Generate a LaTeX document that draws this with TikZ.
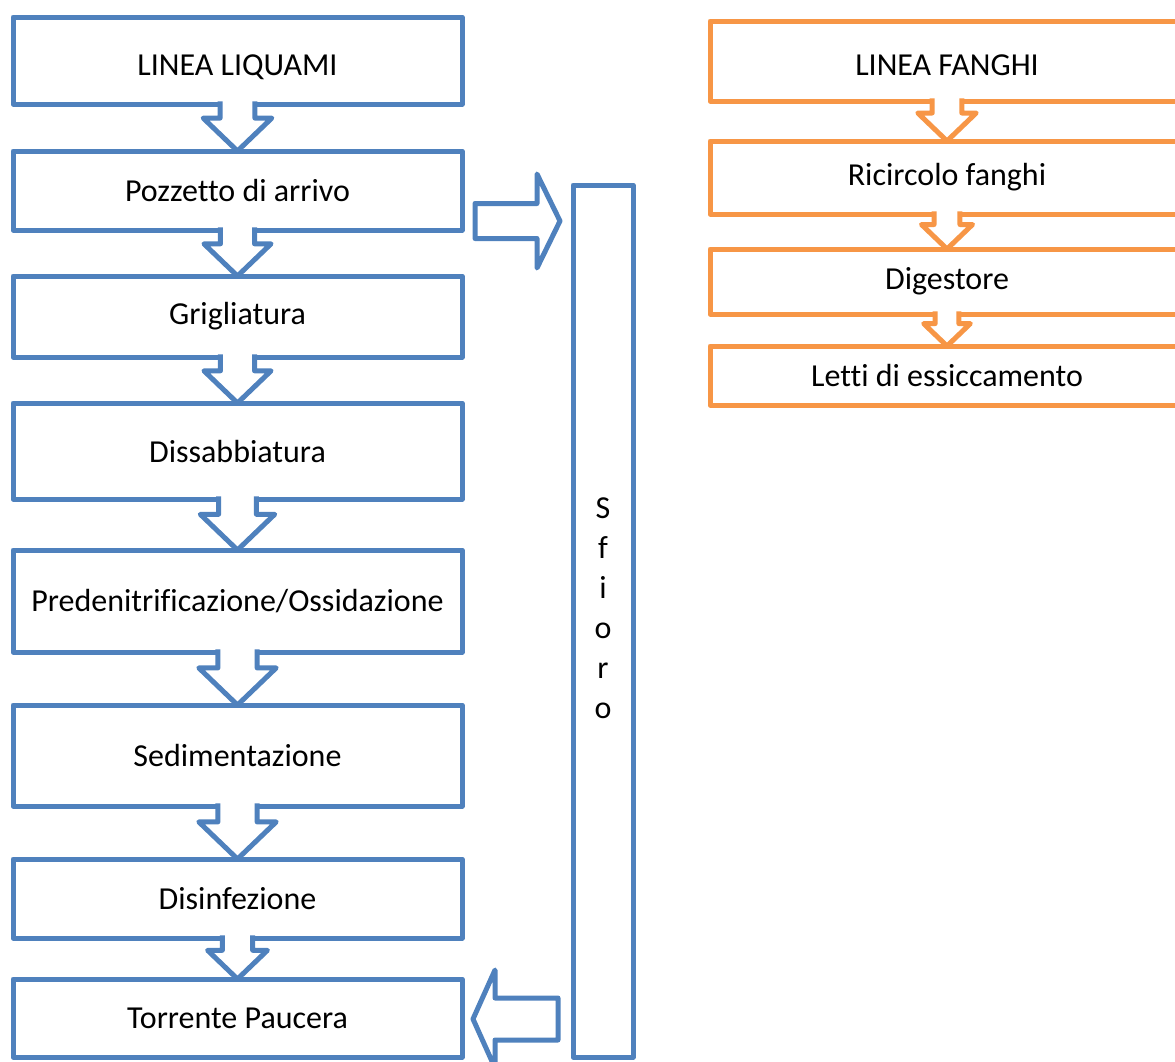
\documentclass[tikz,border=0pt]{standalone}
\usepackage{fontspec}
\setmainfont[Ligatures=NoCommon]{Carlito}
\usetikzlibrary{calc}
\definecolor{flowblue}{HTML}{4F81BD}
\definecolor{floworange}{HTML}{F79646}

\tikzset{
  stagebox/.style={draw=#1, fill=white, line width=5pt, outer sep=0pt, inner sep=0pt,
    line join=round, font=\fontsize{32}{38}\selectfont, text=black},
  liqbox/.style={stagebox=flowblue, minimum width=449pt},
  fanbox/.style={stagebox=floworange, minimum width=474pt},
  headtext/.style={text height=29pt, text depth=0pt},
  blockarrow/.style={draw=#1, fill=white, line width=5pt, line join=round},
}

% Hollow block arrow from the bottom of one stage box to the top of the next.
% Its open top merges into the upper box, whose border is hidden by the fill.
\newcommand\stagearrow[3]{%
  \path let \p1=(#2.south), \p2=(#3.north), \n1={\y1-\y2} in
    (\x1-0.37*\n1,\y1+2.6pt) coordinate (sa1)
    (\x1-0.37*\n1,\y1-0.3*\n1) coordinate (sa2)
    (\x1-0.73*\n1,\y1-0.3*\n1) coordinate (sa3)
    (\x1,\y2) coordinate (sa4)
    (\x1+0.73*\n1,\y1-0.3*\n1) coordinate (sa5)
    (\x1+0.37*\n1,\y1-0.3*\n1) coordinate (sa6)
    (\x1+0.37*\n1,\y1+2.6pt) coordinate (sa7);
  \fill[white] (sa1)--(sa2)--(sa3)--(sa4)--(sa5)--(sa6)--(sa7)--cycle;
  \draw[#1, line width=5pt, line join=round] (sa1)--(sa2)--(sa3)--(sa4)--(sa5)--(sa6)--(sa7);
}

\begin{document}
\begin{tikzpicture}[x=1pt, y=-1pt]
\useasboundingbox (0,0) rectangle (1175,1061);
\clip (0,0) rectangle (1175,1061);

% sewage line
\node[liqbox, headtext, minimum height=87pt]  (liq)  at (237.5,60.5)  {LINEA LIQUAMI};
\node[liqbox, minimum height=79pt]  (pozz) at (237.5,190.5) {Pozzetto di arrivo};
\node[liqbox, minimum height=81pt]  (grig) at (237.5,316.5) {Grigliatura};
\node[liqbox, minimum height=96pt]  (diss) at (237.5,451)   {Dissabbiatura};
\node[liqbox, minimum height=102pt] (pred) at (237.5,601)   {Predenitrificazione/Ossidazione};
\node[liqbox, minimum height=101pt] (sed)  at (237.5,755.5) {Sedimentazione};
\node[liqbox, minimum height=79pt]  (dis)  at (237.5,898.5) {Disinfezione};
\node[liqbox, minimum height=78pt]  (torr) at (237.5,1018)  {Torrente Paucera};

\stagearrow{flowblue}{liq}{pozz}
\stagearrow{flowblue}{pozz}{grig}
\stagearrow{flowblue}{grig}{diss}
\stagearrow{flowblue}{diss}{pred}
\stagearrow{flowblue}{pred}{sed}
\stagearrow{flowblue}{sed}{dis}
\stagearrow{flowblue}{dis}{torr}

% overflow bypass
\node[stagebox=flowblue, minimum width=60pt, minimum height=872pt] (sfioro) at (603,621) {};
\node[align=center, inner sep=0pt, font=\fontsize{32}{40}\selectfont] (sfiorotext)
  at (603,608.5) {S\\f\\i\\o\\r\\o};

\coordinate (inlety) at (0,221);
\path let \p1=(pozz.east), \p2=(sfioro.west), \p3=(inlety) in
  (\x1+13pt,\y3+17.5pt) coordinate (ra1)
  (\x2-36pt,\y3+17.5pt) coordinate (ra2)
  (\x2-36pt,\y3+47pt)   coordinate (ra3)
  (\x2-13pt,\y3)        coordinate (ra4)
  (\x2-36pt,\y3-47pt)   coordinate (ra5)
  (\x2-36pt,\y3-17.5pt) coordinate (ra6)
  (\x1+13pt,\y3-17.5pt) coordinate (ra7);
\draw[blockarrow=flowblue] (ra1)--(ra2)--(ra3)--(ra4)--(ra5)--(ra6)--(ra7)--cycle;

\coordinate (outlety) at (0,1019);
\path let \p1=(torr.east), \p2=(sfioro.west), \p3=(outlety) in
  (\x2-15pt,\y3+21pt) coordinate (la1)
  (\x1+33pt,\y3+21pt) coordinate (la2)
  (\x1+33pt,\y3+49pt) coordinate (la3)
  (\x1+11pt,\y3)      coordinate (la4)
  (\x1+33pt,\y3-49pt) coordinate (la5)
  (\x1+33pt,\y3-21pt) coordinate (la6)
  (\x2-15pt,\y3-21pt) coordinate (la7);
\draw[blockarrow=flowblue] (la1)--(la2)--(la3)--(la4)--(la5)--(la6)--(la7)--cycle;

% sludge line
\node[fanbox, headtext, minimum height=80pt] (fang)  at (947,61)    {LINEA FANGHI};
\node[fanbox, minimum height=73pt] (ric)   at (947,177.5) {Ricircolo fanghi};
\node[fanbox, minimum height=65pt] (dig)   at (947,281.5) {Digestore};
\node[fanbox, minimum height=59pt] (letti) at (947,375.5) {Letti di essiccamento};

\stagearrow{floworange}{fang}{ric}
\stagearrow{floworange}{ric}{dig}
\stagearrow{floworange}{dig}{letti}
\end{tikzpicture}
\end{document}
